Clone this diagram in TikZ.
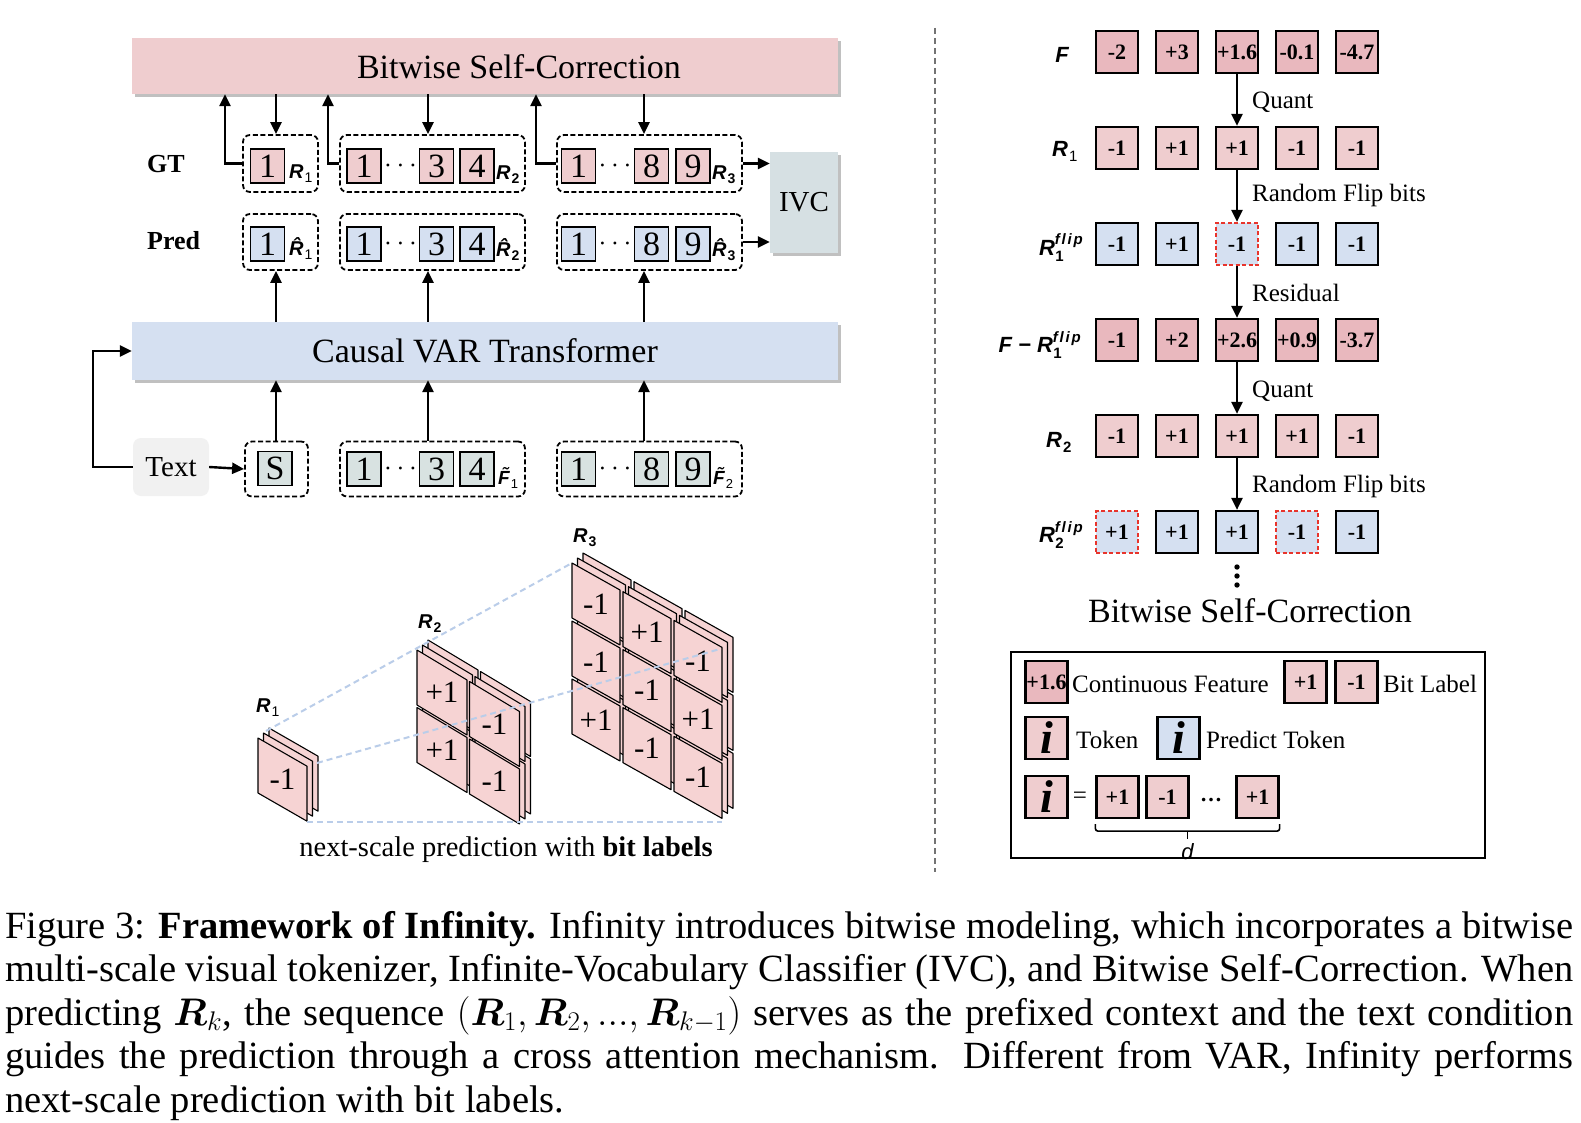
\RequirePackage{fix-cm}
\documentclass[tikz,border=0pt]{standalone}
\usepackage[no-math]{fontspec}
\setmainfont{Liberation Serif}
\newfontfamily\sansf{Liberation Sans}
\usepackage{bm}
\usetikzlibrary{arrows.meta,shadows,calc}
\definecolor{pk}{RGB}{239,205,207}
\definecolor{pkd}{RGB}{233,184,190}
\definecolor{bl}{RGB}{213,224,241}
\definecolor{gr}{RGB}{216,226,225}
\definecolor{ivcc}{RGB}{214,224,227}
\definecolor{txtc}{RGB}{241,241,241}
\definecolor{stk}{RGB}{246,211,211}
\definecolor{dl}{RGB}{186,205,233}
\definecolor{redd}{RGB}{232,52,44}
\newcommand\fsz[1]{\fontsize{#1}{#1}\selectfont}
\newcommand\glab[5]{{\sansf\bfseries\itshape\fsz{#3}#1}\kern1pt\raisebox{-#5pt}{\sansf\fsz{#4}#2}}
\newcommand\flab[3]{{\sansf\bfseries\itshape\fsz{22}#1}\rlap{\kern0.5pt\raisebox{-6pt}{\sansf\bfseries\fsz{15}#3}}\raisebox{10pt}{\sansf\bfseries\itshape\fsz{15}\addfontfeature{LetterSpace=12}#2}}
\newcommand\plate[5]{\filldraw[fill=stk,draw=black,line width=1.1pt,line join=round] (#1,#2) -- ++(#3,{#3*#5}) -- ++(0,#4) -- ++(-#3,{-#3*#5}) -- cycle;}
\newcommand\stackp[7]{%
 \foreach \L in {2,1,0}{%
  \foreach \ci in {1,...,#7}{%
   \foreach \cj in {1,...,#7}{%
    \pgfmathsetmacro\px{#1+(\ci-1)*(#3+#6)+\L*5.5}%
    \pgfmathsetmacro\py{#2+(\ci-1)*(#3+#6)*#5+(\cj-1)*(#4+#6)-\L*5}%
    \plate{\px}{\py}{#3}{#4}{#5}%
 }}}}
\begin{document}
\begin{tikzpicture}[x=1pt,y=-1pt,
 arr/.style={line width=2.4pt,-{Triangle[length=12pt,width=11pt]}},
 grp/.style={draw,line width=1.8pt,dash pattern=on 5pt off 2.6pt,rounded corners=7pt,inner sep=0},
 tk/.style={draw,line width=1.8pt,minimum width=34,minimum height=34,inner sep=0,font=\fsz{34}},
 shd/.style={drop shadow={shadow xshift=3pt,shadow yshift=-3pt,fill=black!35,opacity=.7}},
 rb/.style={draw,line width=2.2pt,minimum size=42,inner sep=0,font=\fsz{22}\bfseries},
 rbr/.style={rb,draw=redd,dash pattern=on 4pt off 2.5pt,fill=bl},
 lbl/.style={inner sep=0,anchor=base west},
 celltxt/.style={font=\fsz{31},inner sep=0},
 dline/.style={dl,line width=2pt,dash pattern=on 6pt off 4pt},
]
\useasboundingbox (0,0) rectangle (1581,1123);
\fill[white] (0,0) rectangle (1581,1123);

% ---------- left: bars ----------
\node[shd,fill=pk,inner sep=0,minimum width=706,minimum height=56] (tb) at (485,66) {};
\node[font=\fsz{34},inner sep=0] (tbt) at (519,66.5) {Bitwise Self-Correction};
\node[shd,fill=bl,inner sep=0,minimum width=706,minimum height=58,font=\fsz{34}] (cb) at (485,351) {Causal VAR Transformer};
\node[shd,fill=ivcc,inner sep=0,minimum width=68,minimum height=101,font=\fsz{29}] (ivc) at (804,202.5) {IVC};
\node[fill=txtc,rounded corners=8pt,inner sep=0,minimum width=76,minimum height=58,font=\fsz{29}] (txt) at (171,467) {Text};

\node[lbl,font=\fsz{26}\bfseries] (gtl) at (147,173) {GT};
\node[lbl,font=\fsz{26}\bfseries] (prl) at (147,250) {Pred};

% ---------- groups ----------
\node[grp,minimum width=75,minimum height=57] (gt1) at (280.5,163.5) {};
\node[grp,minimum width=185,minimum height=57] (gt2) at (432.5,163.5) {};
\node[grp,minimum width=185,minimum height=57] (gt3) at (649.5,163.5) {};
\node[grp,minimum width=75,minimum height=56] (pr1) at (280.5,242) {};
\node[grp,minimum width=185,minimum height=56] (pr2) at (432.5,242) {};
\node[grp,minimum width=185,minimum height=56] (pr3) at (649.5,242) {};
\node[grp,minimum width=63,minimum height=55] (sg) at (276.5,469) {};
\node[grp,minimum width=185,minimum height=55] (fg1) at (432.5,469) {};
\node[grp,minimum width=185,minimum height=55] (fg2) at (649.5,469) {};

\node[tk,fill=pk] (g1a) at (267.5,166) {1};
\node[tk,fill=bl] (p1a) at (267.5,244) {1};
\node[tk,fill=gr] (s1a) at (275,468.5) {S};
\foreach \pf/\yy/\fc in {g/166/pk, p/244/bl, f/469/gr} {
  \node[tk,fill=\fc] (\pf2a) at (364,\yy) {1};
  \node[font=\fsz{28},inner sep=0] (\pf2d) at (400.5,\yy) {$\cdots$};
  \node[tk,fill=\fc] (\pf2b) at (436.5,\yy) {3};
  \node[tk,fill=\fc] (\pf2c) at (477,\yy) {4};
  \node[tk,fill=\fc] (\pf3a) at (578.5,\yy) {1};
  \node[font=\fsz{28},inner sep=0] (\pf3d) at (615,\yy) {$\cdots$};
  \node[tk,fill=\fc] (\pf3b) at (651.5,\yy) {8};
  \node[tk,fill=\fc] (\pf3c) at (693,\yy) {9};
}
\node[lbl] (gl1) at (289,179) {\glab{R}{1}{20}{14}{4}};
\node[lbl] (gl2) at (496,180) {\glab{R}{\bfseries 2}{20}{14}{4}};
\node[lbl] (gl3) at (712,180) {\glab{R}{\bfseries 3}{20}{14}{4}};
\node[lbl] (pl1) at (289,256) {\glab{\^R}{1}{20}{14}{4}};
\node[lbl] (pl2) at (496,257) {\glab{\^R}{\bfseries 2}{20}{14}{4}};
\node[lbl] (pl3) at (712,257) {\glab{\^R}{\bfseries 3}{20}{14}{4}};
\node[lbl] (fl1) at (498,484) {\glab{\~F}{1}{19}{13}{4}};
\node[lbl] (fl2) at (713,484) {\glab{\~F}{2}{19}{13}{4}};

% ---------- arrows ----------
\coordinate (k0) at (225,0); \coordinate (k0b) at (328,0); \coordinate (k0c) at (536,0);
\coordinate (k1) at (276,0); \coordinate (k2) at (428,0); \coordinate (k3) at (644,0);
\draw[arr] (gt1.west) -| (tb.south -| k0);
\draw[arr] (gt2.west) -| (tb.south -| k0b);
\draw[arr] (gt3.west) -| (tb.south -| k0c);
\foreach \k/\g in {k1/gt1,k2/gt2,k3/gt3} \draw[arr] (tb.south -| \k) -- (\g.north -| \k);
\foreach \k/\g in {k1/pr1,k2/pr2,k3/pr3} \draw[arr] (cb.north -| \k) -- (\g.south -| \k);
\foreach \k/\g in {k1/sg,k2/fg1,k3/fg2} \draw[arr] (\g.north -| \k) -- (cb.south -| \k);
\draw[arr] (gt3.east) -- (gt3.east -| ivc.west);
\draw[arr] (pr3.east) -- (pr3.east -| ivc.west);
\draw[arr] (txt.east) -- (sg.west);
\draw[arr] (txt.west) -- ++(-40,0) |- (cb.west);

% ---------- stacks ----------
\stackp{258}{738}{49}{55}{0.575}{0}{1}
\stackp{417}{650}{50}{55}{0.6}{2.5}{2}
\stackp{572}{563}{48}{55}{0.5625}{3}{3}
\node[celltxt] (c1x) at (282.5,779.6) {-1};
\foreach \ci/\cj/\tv [count=\n] in {1/1/+1,1/2/+1,2/1/-1,2/2/-1}
  \node[celltxt] (c2x\n) at ({417+(\ci-1)*52.5+25},{650+(\ci-1)*52.5*0.6+(\cj-1)*57.5+15+27.5}) {\tv};
\foreach \ci/\cj/\tv [count=\n] in {1/1/-1,1/2/-1,1/3/+1,2/1/+1,2/2/-1,2/3/-1,3/1/-1,3/2/+1,3/3/-1}
  \node[celltxt] (c3x\n) at ({572+(\ci-1)*51+24},{563+(\ci-1)*51*0.5625+(\cj-1)*58+13.5+27.5}) {\tv};
\draw[dline] (266,731) -- (572,563);
\draw[dline] (317,763) -- (720,649);
\draw[dline] (307,822) -- (722,822);
\node[lbl] (s1l) at (256,712) {\glab{R}{1}{20}{14}{4}};
\node[lbl] (s2l) at (418,628) {\glab{R}{\bfseries 2}{20}{14}{4}};
\node[lbl] (s3l) at (573,542) {\glab{R}{\bfseries 3}{20}{14}{4}};
\node[anchor=base,inner sep=0,font=\fsz{28.5}] (nsp) at (506,856) {next-scale prediction with \textbf{bit labels}};

% ---------- separator ----------
\draw[black!55,line width=1.4pt,dash pattern=on 6pt off 4pt] (935,28) -- (935,872);

% ---------- right panel ----------
\foreach \val [count=\i] in {-2,+3,+1.6,-0.1,-4.7} \node[rb,fill=pkd] (f\i) at ({1057+60*\i},52) {\val};
\foreach \val [count=\i] in {-1,+1,+1,-1,-1} \node[rb,fill=pk] (a\i) at ({1057+60*\i},148) {\val};
\node[rb,fill=bl] (b1) at (1117,244) {-1};
\node[rb,fill=bl] (b2) at (1177,244) {+1};
\node[rbr] (b3) at (1237,244) {-1};
\node[rb,fill=bl] (b4) at (1297,244) {-1};
\node[rb,fill=bl] (b5) at (1357,244) {-1};
\foreach \val [count=\i] in {-1,+2,+2.6,+0.9,-3.7} \node[rb,fill=pkd] (c\i) at ({1057+60*\i},340) {\val};
\foreach \val [count=\i] in {-1,+1,+1,+1,-1} \node[rb,fill=pk] (e\i) at ({1057+60*\i},436) {\val};
\node[rbr] (h1) at (1117,532) {+1};
\node[rb,fill=bl] (h2) at (1177,532) {+1};
\node[rb,fill=bl] (h3) at (1237,532) {+1};
\node[rbr] (h4) at (1297,532) {-1};
\node[rb,fill=bl] (h5) at (1357,532) {-1};
\draw[arr] (f3.south) -- (a3.north);
\draw[arr] (a3.south) -- (b3.north);
\draw[arr] (b3.south) -- (c3.north);
\draw[arr] (c3.south) -- (e3.north);
\draw[arr] (e3.south) -- (h3.north);
\node[lbl,font=\fsz{25}] (q1) at (1252,109) {Quant};
\node[lbl,font=\fsz{25}] (q2) at (1252,202) {Random Flip bits};
\node[lbl,font=\fsz{25}] (q3) at (1252,301) {Residual};
\node[lbl,font=\fsz{25}] (q4) at (1252,397) {Quant};
\node[lbl,font=\fsz{25}] (q5) at (1252,492) {Random Flip bits};
\node[anchor=base,inner sep=0] (lf) at (1062,63) {{\sansf\bfseries\itshape\fsz{22}F}};
\node[lbl] (lr1) at (1052,157) {\glab{R}{1}{22}{15}{5}};
\node[inner sep=0,anchor=base east] (lr1f) at (1083,255) {\flab{R}{flip}{1}};
\node[inner sep=0,anchor=base east] (lfr) at (1081,352) {\flab{F − R}{flip}{1}};
\node[lbl] (lr2) at (1046,447) {\glab{R}{\bfseries 2}{22}{15}{5}};
\node[inner sep=0,anchor=base east] (lr2f) at (1083,542) {\flab{R}{flip}{2}};
\foreach \yy in {567,576,585} \fill (1237,\yy) circle (2.7pt);
\node[anchor=base,font=\fsz{34},inner sep=0] (bsc) at (1250,622) {Bitwise Self-Correction};

% ---------- legend ----------
\node[draw,line width=2pt,minimum width=474,minimum height=206,inner sep=0] (lg) at (1248,755) {};
\node[rb,fill=pkd] (l1) at (1046.5,682) {+1.6};
\node[lbl,font=\fsz{25}] (l1t) at (1072,692) {Continuous Feature};
\node[rb,fill=pk] (l2) at (1305.5,682) {+1};
\node[rb,fill=pk] (l3) at (1356.5,682) {-1};
\node[lbl,font=\fsz{25}] (l3t) at (1383,692) {Bit Label};
\node[rb,fill=pk,font=\fsz{46}\bfseries\itshape] (l4) at (1046.5,738) {i};
\node[lbl,font=\fsz{25}] (l4t) at (1076,748) {Token};
\node[rb,fill=bl,font=\fsz{46}\bfseries\itshape] (l5) at (1178.5,738) {i};
\node[lbl,font=\fsz{25}] (l5t) at (1206,748) {Predict Token};
\node[rb,fill=pk,font=\fsz{46}\bfseries\itshape] (l6) at (1046.5,797) {i};
\node[inner sep=0,font=\fsz{25}] (leq) at (1080,798) {=};
\node[rb,fill=pk] (lb1) at (1117.5,797) {+1};
\node[rb,fill=pk] (lb2) at (1167.5,797) {-1};
\node[inner sep=0,font=\fsz{22}\bfseries] (ldt) at (1211,800) {…};
\node[rb,fill=pk] (lb3) at (1257.5,797) {+1};
\coordinate (bm) at ($(lb1.south west)!.5!(lb3.south east)$);
\draw[line width=1.6pt,rounded corners=2.5pt] ([yshift=-5pt]lb1.south west) -- ([yshift=-12pt]lb1.south west) -- ([yshift=-12pt]lb3.south east) -- ([yshift=-5pt]lb3.south east);
\draw[line width=1.6pt] ([yshift=-12pt]bm) -- ([yshift=-20pt]bm);
\node[inner sep=0,font=\sansf\itshape\fsz{22}] (ld) at ([yshift=-33pt]bm) {d};

% ---------- caption ----------
\node[anchor=base west,inner sep=0,font=\fsz{38.5}] (cap1) at (5,938) {\hbox to 1568pt{Figure 3: \textbf{Framework of Infinity.} Infinity introduces bitwise modeling, which incorporates a bitwise}};
\node[anchor=base west,inner sep=0,font=\fsz{38.5}] (cap2) at (5,981.5) {\hbox to 1568pt{multi-scale visual tokenizer, Infinite-Vocabulary Classifier (IVC), and Bitwise Self-Correction. When}};
\node[anchor=base west,inner sep=0,font=\fsz{38.5}] (cap3) at (5,1025) {\hbox to 1568pt{predicting $\bm{R}_k$, the sequence $(\bm{R}_1, \bm{R}_2, ..., \bm{R}_{k-1})$ serves as the prefixed context and the text condition}};
\node[anchor=base west,inner sep=0,font=\fsz{38.5}] (cap4) at (5,1068.5) {\hbox to 1568pt{guides the prediction through a cross attention mechanism. Different from VAR, Infinity performs}};
\node[anchor=base west,inner sep=0,font=\fsz{38.5}] (cap5) at (5,1112) {next-scale prediction with bit labels.};
\end{tikzpicture}
\end{document}
